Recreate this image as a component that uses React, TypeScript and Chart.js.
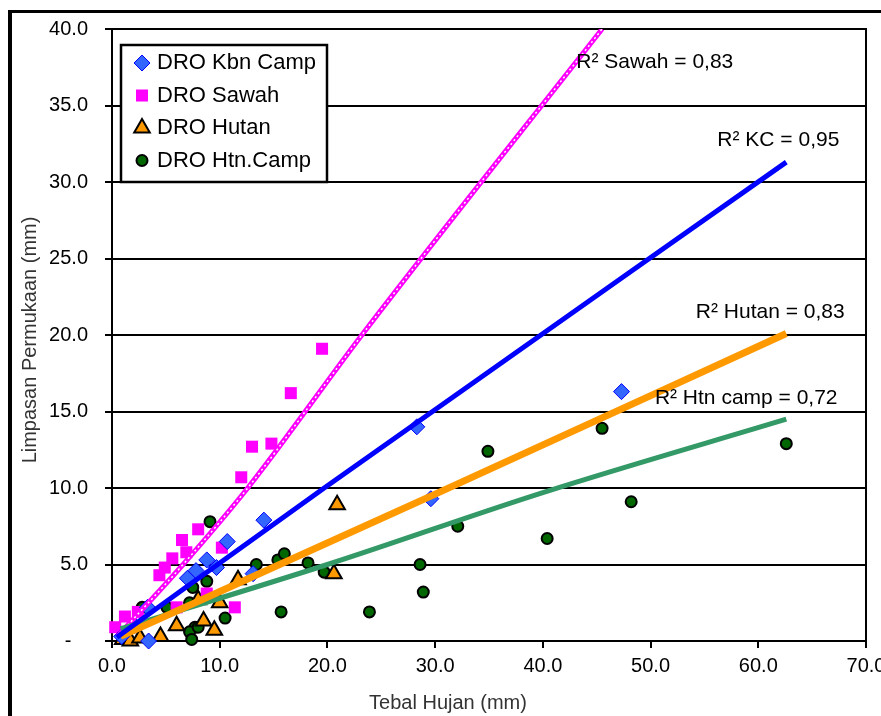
import React, { useEffect, useRef } from 'react';
import { Chart, registerables } from 'chart.js';

Chart.register(...registerables);

// ---- data (x = Tebal Hujan mm, y = Limpasan Permukaan mm) ----
const kbnCamp: [number, number][] = [
  [0.9, 0.3], [2.1, 1.0], [3.3, 2.2], [3.4, 0.0], [7.0, 4.1], [7.8, 4.6], [8.8, 5.3],
  [9.7, 4.8], [10.7, 6.5], [13.1, 4.4], [14.1, 7.9], [28.3, 14.0], [29.6, 9.3], [47.3, 16.3],
];
const sawah: [number, number][] = [
  [0.3, 0.9], [1.2, 1.6], [2.4, 1.9], [4.4, 4.3], [4.9, 4.8], [5.6, 5.4], [6.5, 6.6],
  [6.9, 5.8], [8.0, 7.3], [10.2, 6.1], [8.8, 3.1], [6.0, 2.2], [11.4, 2.2], [12.0, 10.7],
  [13.0, 12.7], [14.8, 12.9], [16.6, 16.2], [19.5, 19.1],
];
const hutan: [number, number][] = [
  [1.0, 0.1], [1.7, 0.0], [2.6, 0.2], [4.5, 0.3], [6.0, 1.0], [8.0, 2.7], [8.5, 1.3],
  [9.5, 0.7], [10.0, 2.5], [11.7, 4.0], [20.6, 4.4], [20.9, 8.9],
];
const htnCamp: [number, number][] = [
  [2.8, 2.2], [5.1, 2.2], [7.2, 2.5], [7.5, 3.5], [8.8, 3.9], [9.1, 7.8], [7.7, 0.9],
  [7.2, 0.6], [8.0, 0.9], [7.4, 0.1], [10.5, 1.5], [13.4, 5.0], [15.4, 5.3], [16.0, 5.7],
  [15.7, 1.9], [18.2, 5.1], [19.7, 4.5], [23.9, 1.9], [28.6, 5.0], [28.9, 3.2], [32.1, 7.5],
  [34.9, 12.4], [40.4, 6.7], [45.5, 13.9], [48.2, 9.1], [62.6, 12.9],
];

// trendlines
const trendKbn: [number, number][] = [[0.45, 0.25], [19.7, 10.0], [62.6, 31.3]];
const trendSawah: [number, number][] = [[0.5, 0.3], [6.6, 5.0], [12.6, 10.0], [23.2, 20.0], [45.5, 40.0]];
const trendHutan: [number, number][] = [[0.8, 0.3], [29.7, 9.5], [62.6, 20.1]];
const trendHtn: [number, number][] = [[0.8, 0.8], [20.0, 5.0], [40.0, 9.7], [62.6, 14.5]];

const legendLabels = ['DRO Kbn Camp', 'DRO Sawah', 'DRO Hutan', 'DRO Htn.Camp'];
const r2Texts = ['R² Sawah = 0,83', 'R² KC = 0,95', 'R² Hutan = 0,83', 'R² Htn camp = 0,72'];
const r2AnchorX = [43.1, 56.2, 54.2, 50.4];
const r2AnchorY = [37.8, 32.7, 21.5, 15.9];

const xTitle = 'Tebal Hujan (mm)';
const yTitle = 'Limpasan Permukaan (mm)';

const X_MIN = 0, X_MAX = 70, X_STEP = 10;
const Y_MIN = 0, Y_MAX = 40, Y_STEP = 5;

const FONT = '"Liberation Sans", Arial, sans-serif';

type Mk = { style: string; r: number; fill: string; stroke: string; lw: number };
const markers: Mk[] = [
  { style: 'rectRot', r: 8, fill: '#3366FF', stroke: '#0000FF', lw: 1 },
  { style: 'rect', r: 8.5, fill: '#FF00FF', stroke: '#FF00FF', lw: 0 },
  { style: 'triangle', r: 9, fill: '#FF9900', stroke: '#000000', lw: 2 },
  { style: 'circle', r: 5.5, fill: '#006600', stroke: '#000000', lw: 2 },
];

function drawMarker(ctx: CanvasRenderingContext2D, m: Mk, x: number, y: number) {
  ctx.beginPath();
  const r = m.r;
  if (m.style === 'circle') {
    ctx.arc(x, y, r, 0, Math.PI * 2);
  } else if (m.style === 'rect') {
    const s = Math.SQRT1_2 * r;
    ctx.rect(x - s, y - s, 2 * s, 2 * s);
  } else if (m.style === 'rectRot') {
    ctx.moveTo(x, y - r);
    ctx.lineTo(x + r, y);
    ctx.lineTo(x, y + r);
    ctx.lineTo(x - r, y);
    ctx.closePath();
  } else if (m.style === 'triangle') {
    ctx.moveTo(x, y - r);
    ctx.lineTo(x + r * 0.866, y + r / 2);
    ctx.lineTo(x - r * 0.866, y + r / 2);
    ctx.closePath();
  }
  ctx.fillStyle = m.fill;
  ctx.fill();
  if (m.lw > 0) {
    ctx.lineWidth = m.lw;
    ctx.strokeStyle = m.stroke;
    ctx.stroke();
  }
}

const overlayPlugin = {
  id: 'overlay',
  afterDatasetsDraw(chart: any) {
    const { ctx, chartArea: a, scales } = chart;
    ctx.save();
    // right frame of plot area
    ctx.strokeStyle = '#000';
    ctx.lineWidth = 2;
    ctx.beginPath();
    ctx.moveTo(Math.round(a.right), a.top - 1);
    ctx.lineTo(Math.round(a.right), a.bottom + 7);
    ctx.stroke();

    // R² labels
    ctx.font = '21px ' + FONT;
    ctx.fillStyle = '#000';
    ctx.textAlign = 'left';
    ctx.textBaseline = 'middle';
    r2Texts.forEach((t, i) => {
      ctx.fillText(t, scales.x.getPixelForValue(r2AnchorX[i]), scales.y.getPixelForValue(r2AnchorY[i]));
    });

    // legend box
    const lx = a.left + 9, ly = a.top + 16, lw = 206, lh = 137;
    ctx.fillStyle = '#fff';
    ctx.fillRect(lx, ly, lw, lh);
    ctx.lineWidth = 2.5;
    ctx.strokeStyle = '#000';
    ctx.strokeRect(lx, ly, lw, lh);
    ctx.font = '22px ' + FONT;
    ctx.textBaseline = 'middle';
    legendLabels.forEach((t, i) => {
      const cy = ly + 18 + i * 32.5;
      drawMarker(ctx, markers[i], lx + 21, cy);
      ctx.fillStyle = '#000';
      ctx.fillText(t, lx + 36, cy);
    });
    ctx.restore();
  },
  afterDraw(chart: any) {
    const { ctx } = chart;
    ctx.save();
    ctx.fillStyle = '#333';
    ctx.font = '20px ' + FONT;
    ctx.textAlign = 'center';
    ctx.textBaseline = 'middle';
    ctx.fillText(xTitle, 448, 703);
    ctx.translate(30, 340);
    ctx.rotate(-Math.PI / 2);
    ctx.fillText(yTitle, 0, 0);
    ctx.restore();
  },
};

const toXY = (arr: [number, number][]) => arr.map(([x, y]) => ({ x, y }));

export default function App() {
  const ref = useRef<HTMLCanvasElement>(null);
  useEffect(() => {
    if (!ref.current) return;
    const scatter = (data: [number, number][], i: number, label: string) => ({
      label,
      data: toXY(data),
      showLine: false,
      pointStyle: markers[i].style,
      pointRadius: markers[i].r,
      pointBackgroundColor: markers[i].fill,
      pointBorderColor: markers[i].stroke,
      pointBorderWidth: markers[i].lw,
      clip: false as any,
      order: 5 + i,
    });
    const trend = (data: [number, number][], color: string, width: number, order: number, dash: number[] = []) => ({
      label: 'trend',
      data: toXY(data),
      showLine: true,
      pointRadius: 0,
      borderColor: color,
      borderWidth: width,
      borderDash: dash,
      cubicInterpolationMode: 'monotone' as const,
      order,
    });
    const chart = new Chart(ref.current, {
      type: 'scatter',
      data: {
        datasets: [
          scatter(kbnCamp, 0, legendLabels[0]),
          scatter(sawah, 1, legendLabels[1]),
          scatter(hutan, 2, legendLabels[2]),
          scatter(htnCamp, 3, legendLabels[3]),
          trend(trendSawah, '#FF00FF', 5, 4),
          trend(trendSawah, '#FFFFFF', 1.5, 3, [2, 3]),
          trend(trendHtn, '#339966', 5, 2),
          trend(trendHutan, '#FF9900', 7, 1),
          trend(trendKbn, '#0000FF', 5, 0),
        ] as any,
      },
      options: {
        animation: false,
        responsive: false,
        devicePixelRatio: 1,
        events: [],
        layout: { padding: { top: 29, right: 15, left: 0, bottom: 0 } },
        plugins: { legend: { display: false }, tooltip: { enabled: false } },
        scales: {
          x: {
            type: 'linear',
            min: X_MIN,
            max: X_MAX,
            afterFit: (s: any) => { s.height = 75; s.paddingLeft = 0; s.paddingRight = 0; },
            ticks: {
              stepSize: X_STEP,
              color: '#000',
              padding: 6,
              font: { size: 20, family: FONT },
              maxRotation: 0,
              callback: (v: any) => Number(v).toFixed(1),
            },
            grid: { drawOnChartArea: false, drawTicks: true, tickLength: 7, color: '#000', lineWidth: 2 },
            border: { display: true, color: '#000', width: 2 },
          },
          y: {
            type: 'linear',
            min: Y_MIN,
            max: Y_MAX,
            afterFit: (s: any) => { s.width = 112; s.paddingTop = 0; s.paddingBottom = 0; },
            ticks: {
              stepSize: Y_STEP,
              color: '#000',
              padding: 17,
              font: { size: 20, family: FONT },
              callback: (v: any) => (Number(v) === 0 ? '-   ' : Number(v).toFixed(1)),
            },
            grid: { color: '#000', lineWidth: 2, drawTicks: true, tickLength: 7 },
            border: { display: true, color: '#000', width: 2 },
          },
        },
      } as any,
      plugins: [overlayPlugin],
    });
    return () => chart.destroy();
  }, []);

  return (
    <div style={{ position: 'fixed', left: 0, top: 0, width: 881, height: 716, overflow: 'hidden', background: '#fff' }}>
      <div
        style={{
          position: 'absolute', left: 8, top: 10, width: 900, height: 800,
          borderTop: '3px solid #000', borderLeft: '4px solid #000',
        }}
      />
      <canvas ref={ref} width={881} height={716} style={{ position: 'absolute', left: 0, top: 0, display: 'block' }} />
    </div>
  );
}
